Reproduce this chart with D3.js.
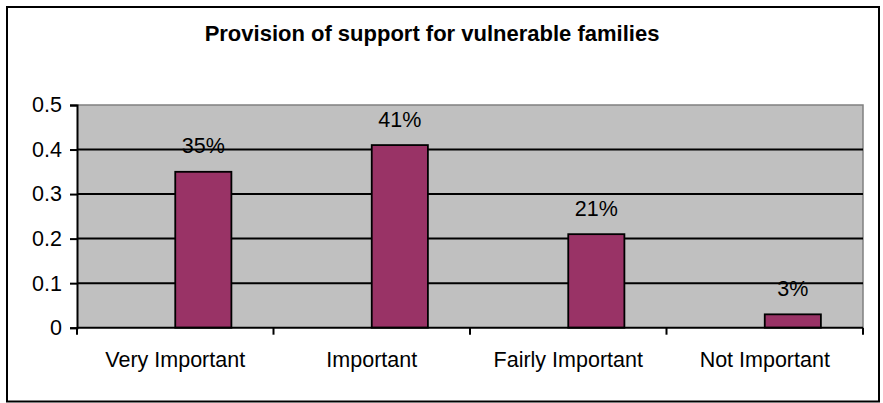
<!DOCTYPE html>
<html>
<head>
<meta charset="utf-8">
<script src="https://cdn.jsdelivr.net/npm/d3@7"></script>
<style>
  html, body { margin: 0; padding: 0; background: #fff; }
  svg { display: block; font-family: "Liberation Sans", Arial, sans-serif; }
</style>
</head>
<body>
<svg id="chart" width="883" height="403"></svg>
<script>
// Survey answers: share of respondents per importance rating
const chartTitle = "Provision of support for vulnerable families";
const categories = ["Very Important", "Important", "Fairly Important", "Not Important"];
const shares = [0.35, 0.41, 0.21, 0.03];
const shareLabels = ["35%", "41%", "21%", "3%"];
const yTicks = [0, 0.1, 0.2, 0.3, 0.4, 0.5];

const svg = d3.select("#chart");

// outer frame
svg.append("rect")
  .attr("x", 7).attr("y", 7)
  .attr("width", 872).attr("height", 394.5)
  .attr("fill", "#fff").attr("stroke", "#000").attr("stroke-width", 2);

const plot = { left: 77, right: 863, top: 105, bottom: 327.7 };

const x = d3.scaleBand()
  .domain(categories)
  .range([plot.left, plot.right])
  .padding(0);

const y = d3.scaleLinear()
  .domain([0, 0.5])
  .range([plot.bottom, plot.top]);

// plot background
svg.append("rect")
  .attr("x", plot.left).attr("y", plot.top)
  .attr("width", plot.right - plot.left)
  .attr("height", plot.bottom - plot.top)
  .attr("fill", "#c0c0c0");

// plot border (top and right)
svg.append("path")
  .attr("d", `M${plot.left},${plot.top}H${plot.right}V${plot.bottom}`)
  .attr("fill", "none").attr("stroke", "#808080").attr("stroke-width", 1.5);

// horizontal gridlines
svg.append("g")
  .selectAll("line")
  .data(yTicks.filter(t => t > 0 && t < 0.5))
  .join("line")
  .attr("x1", plot.left).attr("x2", plot.right)
  .attr("y1", d => y(d)).attr("y2", d => y(d))
  .attr("stroke", "#000").attr("stroke-width", 2);

// bars: each sits in the right half of its category slot
const barW = x.bandwidth() * 2 / 7;
svg.append("g")
  .selectAll("rect")
  .data(categories)
  .join("rect")
  .attr("x", d => x(d) + x.bandwidth() / 2)
  .attr("y", (d, i) => y(shares[i]))
  .attr("width", barW)
  .attr("height", (d, i) => y(0) - y(shares[i]))
  .attr("fill", "#993366")
  .attr("stroke", "#000").attr("stroke-width", 1.8);

// value labels
svg.append("g")
  .selectAll("text")
  .data(categories)
  .join("text")
  .attr("x", d => x(d) + x.bandwidth() / 2 + barW / 2)
  .attr("y", (d, i) => y(shares[i]) - 18.5)
  .attr("text-anchor", "middle")
  .attr("font-size", "21.5px")
  .attr("fill", "#000")
  .text((d, i) => shareLabels[i]);

// y axis
const yAxis = svg.append("g")
  .attr("transform", `translate(${plot.left},0)`)
  .call(d3.axisLeft(y).tickValues(yTicks).tickFormat(d3.format("")).tickSize(7).tickPadding(8));
yAxis.select(".domain").attr("stroke", "#000").attr("stroke-width", 2);
yAxis.selectAll(".tick line").attr("stroke", "#000").attr("stroke-width", 2);
yAxis.selectAll(".tick text")
  .attr("font-size", "21.5px").attr("fill", "#000")
  .attr("font-family", "Liberation Sans, Arial, sans-serif");

// x axis: ticks at category boundaries
const xAxis = svg.append("g")
  .attr("transform", `translate(0,${plot.bottom})`);
xAxis.append("line")
  .attr("x1", plot.left).attr("x2", plot.right)
  .attr("stroke", "#000").attr("stroke-width", 2);
const bounds = categories.map(c => x(c)).concat([plot.right]);
xAxis.selectAll("line.tk")
  .data(bounds)
  .join("line")
  .attr("class", "tk")
  .attr("x1", d => d).attr("x2", d => d)
  .attr("y1", 0).attr("y2", 7)
  .attr("stroke", "#000").attr("stroke-width", 2);
xAxis.selectAll("text")
  .data(categories)
  .join("text")
  .attr("x", d => x(d) + x.bandwidth() / 2)
  .attr("y", 39)
  .attr("text-anchor", "middle")
  .attr("font-size", "21.5px")
  .attr("fill", "#000")
  .text(d => d);

// title
svg.append("text")
  .attr("x", 432).attr("y", 41)
  .attr("text-anchor", "middle")
  .attr("font-size", "22px")
  .attr("font-weight", "bold")
  .attr("fill", "#000")
  .text(chartTitle);
</script>
</body>
</html>
